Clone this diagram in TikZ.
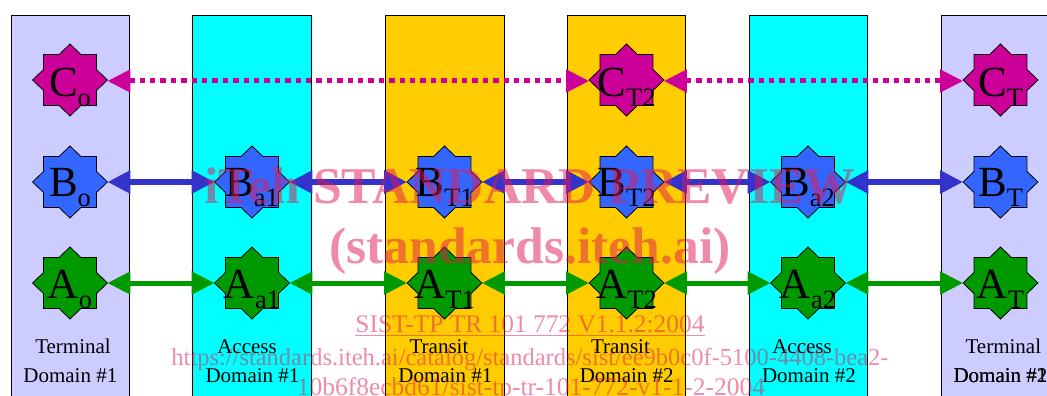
\documentclass[tikz,border=0pt]{standalone}
\usepackage{fontspec}
\setmainfont{Liberation Serif}
\usetikzlibrary{shapes.geometric,arrows.meta}
\newcommand{\nm}[2]{{\fontsize{43}{43}\selectfont #1}{\fontsize{26.5}{27}\selectfont\raisebox{-10pt}{#2}}}
\tikzset{
  x=1pt,y=-1pt,
  column/.style={draw=black,line width=.8pt},
  terminal/.style={column,fill=termc},
  access/.style={column,fill=accc},
  transit/.style={column,fill=tranc},
  starnode/.style={shape=star,star points=8,star point ratio=1.307,minimum size=72pt,inner sep=0pt,outer sep=0pt,
     xscale=1.04,transform shape,draw=black,line width=.8pt},
  cstar/.style={starnode,fill=cc},
  bstar/.style={starnode,fill=bc},
  astar/.style={starnode,fill=ac},
  sym/.style={anchor=base,inner sep=0pt,text=black},
  dom/.style={anchor=base,inner sep=0pt,font=\fontsize{21}{21}\selectfont,text=black},
  cline/.style={draw=cc,line width=5pt,dash pattern=on 5.4pt off 5pt,{Triangle[length=23pt,width=22pt,fill=cc]}-{Triangle[length=23pt,width=22pt,fill=cc]},shorten >=0pt},
  bline/.style={draw=bl,line width=6pt,{Triangle[length=23pt,width=22pt]}-{Triangle[length=23pt,width=22pt]}},
  aline/.style={draw=ac,line width=5pt,{Triangle[length=23pt,width=22pt]}-{Triangle[length=23pt,width=22pt]}},
  wmb/.style={anchor=base,inner sep=0pt,text=wm,text opacity=.5,font=\fontsize{51.6}{52}\selectfont\bfseries},
  wms/.style={anchor=base,inner sep=0pt,text=wm,text opacity=.5,font=\fontsize{25.4}{26}\selectfont},
  wmu/.style={anchor=base,inner sep=0pt,text=wm,text opacity=.5,font=\fontsize{24.5}{25}\selectfont},
  wmv/.style={anchor=base,inner sep=0pt,text=wm,text opacity=.5,font=\fontsize{25.5}{26}\selectfont},
}
\definecolor{termc}{HTML}{CCCCFF}
\definecolor{accc}{HTML}{00FFFF}
\definecolor{tranc}{HTML}{FFCC00}
\definecolor{cc}{HTML}{CC0099}
\definecolor{bc}{HTML}{3366FF}
\definecolor{bl}{HTML}{3333CC}
\definecolor{ac}{HTML}{009900}
\definecolor{wm}{HTML}{E11955}
\begin{document}
\begin{tikzpicture}
\useasboundingbox (0,0) rectangle (1047,396);
\clip (0,0) rectangle (1047,396);
\fill[white] (0,0) rectangle (1047,396);
% columns
\draw[terminal] (11.2,15) rectangle (129,410);
\draw[access] (192.8,15) rectangle (311,410);
\draw[transit] (385.5,15) rectangle (504,410);
\draw[transit] (567,15) rectangle (685.3,410);
\draw[access] (749.5,15) rectangle (867,410);
\draw[terminal] (941.8,15) rectangle (1060,410);
% stars
\node[cstar] (co) at (70,80) {};
\node[cstar] (ct2) at (626.5,80) {};
\node[cstar] (ct) at (1000.5,80) {};
\node[bstar] (bo) at (70,182) {};
\node[bstar] (ba1) at (252,182) {};
\node[bstar] (bt1) at (444.5,182) {};
\node[bstar] (bt2) at (626.5,182) {};
\node[bstar] (ba2) at (808,182) {};
\node[bstar] (bt) at (1000.5,182) {};
\node[astar] (ao) at (70,283) {};
\node[astar] (aa1) at (252,283) {};
\node[astar] (at1) at (444.5,283) {};
\node[astar] (at2) at (626.5,283) {};
\node[astar] (aa2) at (808,283) {};
\node[astar] (at) at (1000.5,283) {};
% symbols
\node[sym] at ([yshift=-16pt]co.center) {\nm{C}{o}};
\node[sym] at ([yshift=-16pt]ct2.center) {\nm{C}{T2}};
\node[sym] at ([yshift=-16pt]ct.center) {\nm{C}{T}};
\node[sym] at ([yshift=-14pt]bo.center) {\nm{B}{o}};
\node[sym] at ([yshift=-14pt]ba1.center) {\nm{B}{a1}};
\node[sym] at ([yshift=-14pt]bt1.center) {\nm{B}{T1}};
\node[sym] at ([yshift=-14pt]bt2.center) {\nm{B}{T2}};
\node[sym] at ([yshift=-14pt]ba2.center) {\nm{B}{a2}};
\node[sym] at ([yshift=-14pt]bt.center) {\nm{B}{T}};
\node[sym] at ([yshift=-15pt]ao.center) {\nm{A}{o}};
\node[sym] at ([yshift=-15pt]aa1.center) {\nm{A}{a1}};
\node[sym] at ([yshift=-15pt]at1.center) {\nm{A}{T1}};
\node[sym] at ([yshift=-15pt]at2.center) {\nm{A}{T2}};
\node[sym] at ([yshift=-15pt]aa2.center) {\nm{A}{a2}};
\node[sym] at ([yshift=-15pt]at.center) {\nm{A}{T}};
% connectors
\draw[cline] ([yshift=-1pt]co.east) -- ([yshift=-1pt]ct2.west);
\draw[cline] ([yshift=-1pt]ct2.east) -- ([yshift=-1pt]ct.west);
\draw[bline] (bo.east) -- (ba1.west);
\draw[bline] (ba1.east) -- (bt1.west);
\draw[bline] (bt1.east) -- (bt2.west);
\draw[bline] (bt2.east) -- (ba2.west);
\draw[bline] (ba2.east) -- (bt.west);
\draw[aline] (ao.east) -- (aa1.west);
\draw[aline] (aa1.east) -- (at1.west);
\draw[aline] (at1.east) -- (at2.west);
\draw[aline] (at2.east) -- (aa2.west);
\draw[aline] (aa2.east) -- (at.west);
% domain labels
\node[dom] at (73,353.7) {Terminal};
\node[dom] at (70.3,382.2) {Domain \#1};
\node[dom] at (247,353.7) {Access};
\node[dom] at (252.5,382.2) {Domain \#1};
\node[dom] at (439,353.7) {Transit};
\node[dom] at (445.3,382.2) {Domain \#1};
\node[dom] at (620.5,353.7) {Transit};
\node[dom] at (626.7,382.2) {Domain \#2};
\node[dom] at (802,353.7) {Access};
\node[dom] at (809,382.2) {Domain \#2};
\node[dom] at (1003.3,353.7) {Terminal};
\node[dom] at (1000.5,382.2) {Domain \#1};
\node[dom] at (1000.5,382.2) {Domain \#2};
% watermark
\node[wmb] at (530,203) {iTeh STANDARD PREVIEW};
\node[wmb] at (530,263) {(standards.iteh.ai)};
\node[wms] (sist) at (530,332) {SIST-TP TR 101 772 V1.1.2:2004};
\draw[wm,opacity=.5,line width=1pt] ([yshift=-3pt]sist.base west) -- ([yshift=-3pt]sist.base east);
\node[wmu] at (530,365) {https://standards.iteh.ai/catalog/standards/sist/ee9b0c0f-5100-4408-bea2-};
\node[wmv] at (531,395) {10b6f8ecbd61/sist-tp-tr-101-772-v1-1-2-2004};
\end{tikzpicture}
\end{document}
